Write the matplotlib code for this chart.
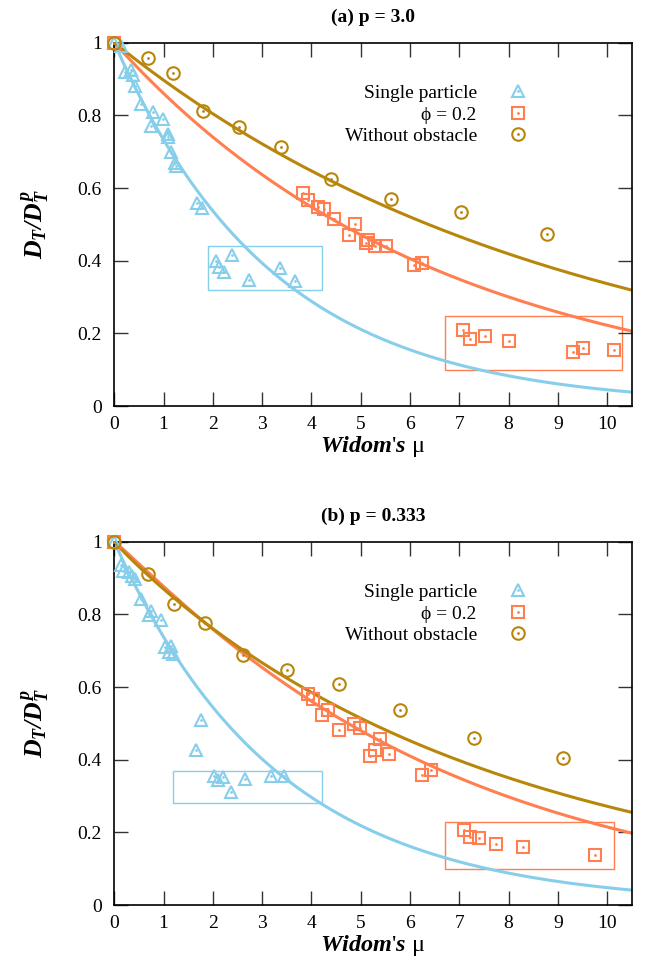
import numpy as np
import matplotlib.pyplot as plt
from matplotlib.legend_handler import HandlerTuple

plt.rcParams['font.family'] = ['Liberation Serif', 'DejaVu Serif']
plt.rcParams['mathtext.fontset'] = 'custom'
plt.rcParams['mathtext.rm'] = 'Liberation Serif'
plt.rcParams['mathtext.it'] = 'Liberation Serif:italic'
plt.rcParams['mathtext.bf'] = 'Liberation Serif:italic:bold'

# colours (gnuplot-like)
c_single = '#87ceeb'
c_phi = '#ff7f50'
c_free = '#b8860b'

# ---- panel (a) p = 3.0 ----
a_single_x = [0.0, 0.14, 0.22, 0.34, 0.37, 0.41, 0.54, 0.74, 0.79, 0.98, 1.08, 1.09, 1.15, 1.24, 1.25, 1.67, 1.78,
              2.07, 2.13, 2.22, 2.39, 2.73, 3.37, 3.67]
a_single_y = [1.0, 0.99, 0.92, 0.925, 0.91, 0.88, 0.83, 0.77, 0.81, 0.79, 0.75, 0.74, 0.70, 0.67, 0.66, 0.56, 0.545,
              0.40, 0.383, 0.37, 0.415, 0.346, 0.38, 0.345]
a_phi_x = [0.0, 3.83, 3.93, 4.13, 4.25, 4.46, 4.76, 4.89, 5.10, 5.15, 5.28, 5.52, 6.08, 6.25,
           7.08, 7.21, 7.53, 8.00, 9.30, 9.52, 10.15]
a_phi_y = [1.0, 0.587, 0.568, 0.548, 0.541, 0.515, 0.472, 0.501, 0.449, 0.456, 0.44, 0.44, 0.388, 0.395,
           0.209, 0.184, 0.192, 0.179, 0.148, 0.161, 0.154]
a_free_x = [0.0, 0.68, 1.20, 1.81, 2.54, 3.39, 4.39, 5.61, 7.03, 8.79]
a_free_y = [1.0, 0.958, 0.917, 0.811, 0.767, 0.714, 0.625, 0.571, 0.533, 0.473]
# fit parameters y = exp(-a * x**b)
a_fits = {'single': (0.311, 1.0), 'phi': (0.1504, 1.0), 'free': (0.1088, 1.0)}
a_boxes = [((1.90, 0.32), 2.32, 0.12, c_single), ((6.72, 0.098), 3.59, 0.151, c_phi)]

# ---- panel (b) p = 0.333 ----
b_single_x = [0.0, 0.14, 0.18, 0.30, 0.35, 0.41, 0.54, 0.71, 0.74, 0.95, 1.03, 1.12, 1.16, 1.20, 1.66, 1.76,
              2.03, 2.10, 2.20, 2.36, 2.66, 3.18, 3.44]
b_single_y = [1.0, 0.936, 0.92, 0.916, 0.907, 0.898, 0.843, 0.797, 0.81, 0.785, 0.71, 0.696, 0.714, 0.69, 0.426, 0.508,
              0.354, 0.345, 0.353, 0.31, 0.348, 0.354, 0.354]
b_phi_x = [0.0, 3.93, 4.03, 4.21, 4.34, 4.56, 4.86, 4.99, 5.18, 5.28, 5.40, 5.57, 6.24, 6.43,
           7.10, 7.21, 7.40, 7.74, 8.30, 9.76]
b_phi_y = [1.0, 0.582, 0.568, 0.522, 0.536, 0.483, 0.499, 0.486, 0.41, 0.426, 0.457, 0.417, 0.357, 0.371,
           0.206, 0.188, 0.185, 0.168, 0.159, 0.137]
b_free_x = [0.0, 0.68, 1.22, 1.85, 2.61, 3.50, 4.55, 5.79, 7.30, 9.10]
b_free_y = [1.0, 0.911, 0.83, 0.776, 0.689, 0.646, 0.609, 0.538, 0.459, 0.404]
b_fits = {'single': (0.304, 1.0), 'phi': (0.1315, 1.068), 'free': (0.1396, 0.970)}
b_boxes = [((1.20, 0.281), 3.01, 0.088, c_single), ((6.72, 0.099), 3.41, 0.130, c_phi)]

labels = ['Single particle', 'ϕ = 0.2', 'Without obstacle']


def draw_panel(ax, title, sx, sy, px, py, fx, fy, fits, boxes):
    xx = np.linspace(0, 10.5, 300)
    for key, col in [('single', c_single), ('phi', c_phi), ('free', c_free)]:
        a, b = fits[key]
        ax.plot(xx, np.exp(-a * xx ** b), color=col, lw=2.2, zorder=2)

    handles = []
    for x, y, m, col in [(sx, sy, '^', c_single), (px, py, 's', c_phi), (fx, fy, 'o', c_free)]:
        h, = ax.plot(x, y, ls='none', marker=m, ms=9, mfc='none', mec=col, mew=1.5, zorder=3, clip_on=False)
        d, = ax.plot(x, y, ls='none', marker='.', ms=2, color=col, zorder=3, clip_on=False)
        handles.append((h, d))

    for (xy, w, hgt, col) in boxes:
        ax.add_patch(plt.Rectangle(xy, w, hgt, fill=False, ec=col, lw=1.0, zorder=1))

    ax.legend(handles, labels, loc='upper right', bbox_to_anchor=(0.817, 0.912), frameon=False,
              markerfirst=False, handlelength=1.0, handletextpad=1.6, labelspacing=0.2,
              borderpad=0, fontsize=14, handler_map={tuple: HandlerTuple(ndivide=1, pad=0)})

    ax.set_xlim(0, 10.5)
    ax.set_ylim(0, 1)
    ax.set_xticks(range(0, 11))
    ax.set_yticks([0, 0.2, 0.4, 0.6, 0.8, 1.0])
    ax.set_yticklabels(['0', '0.2', '0.4', '0.6', '0.8', '1'])
    ax.tick_params(direction='in', length=10, width=1.0, top=True, right=True, labelsize=14, color='#333333')
    ax.tick_params(axis='y', pad=9)
    ax.tick_params(axis='x', pad=7)
    for s in ax.spines.values():
        s.set_linewidth(1.2)
    ax.set_title(title, fontsize=14, fontweight='bold', pad=15)
    ax.set_xlabel(r"$\mathbf{Widom}$'$\mathbf{s}$ μ", fontsize=17.5, labelpad=1)
    ax.set_ylabel(r"$\mathbf{D_T/D_T^{\,p}}$", fontsize=18.5, labelpad=18)


fig = plt.figure(figsize=(6.55, 9.8), dpi=100)
ax1 = fig.add_axes([0.1745, 0.5857, 0.790, 0.3707])
ax2 = fig.add_axes([0.1745, 0.0765, 0.790, 0.3707])

draw_panel(ax1, '(a) p = 3.0', a_single_x, a_single_y, a_phi_x, a_phi_y, a_free_x, a_free_y, a_fits, a_boxes)
draw_panel(ax2, '(b) p = 0.333', b_single_x, b_single_y, b_phi_x, b_phi_y, b_free_x, b_free_y, b_fits, b_boxes)

fig.savefig('out.png', dpi=100)
